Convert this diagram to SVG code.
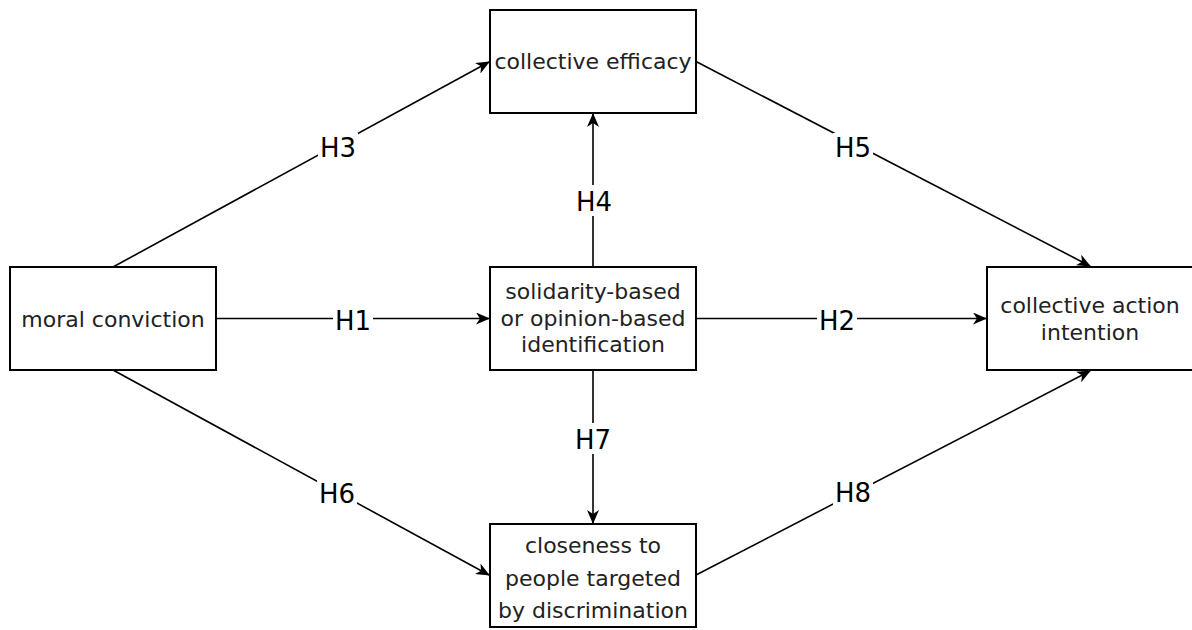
<svg xmlns="http://www.w3.org/2000/svg" width="1192" height="630" viewBox="0 0 1192 630">
<style>
.box{fill:#fff;stroke:#000;stroke-width:2}
.t{font-family:"DejaVu Sans",Verdana,sans-serif;font-size:22px;fill:#222;text-anchor:middle}
.edge{stroke:#000;stroke-width:1.6;fill:none}
.lbg{fill:#fff}
.lbl{font-family:"DejaVu Sans",Verdana,sans-serif;font-size:26px;fill:#000;text-anchor:middle}
</style>
<defs>
<marker id="arr" viewBox="0 0 14 12" refX="13" refY="6" markerWidth="14" markerHeight="12" markerUnits="userSpaceOnUse" orient="auto">
<path d="M0,0 L14,6 L0,12 L4,6 z" fill="#000"/>
</marker>
</defs>
<rect width="1192" height="630" fill="#fff"/>
<g id="connectors">
<line class="edge" x1="216" y1="318.5" x2="489" y2="318.5" marker-end="url(#arr)"/>
<line class="edge" x1="696" y1="318.5" x2="986" y2="318.5" marker-end="url(#arr)"/>
<line class="edge" x1="113" y1="267" x2="489" y2="62" marker-end="url(#arr)"/>
<line class="edge" x1="593" y1="267" x2="593" y2="114" marker-end="url(#arr)"/>
<line class="edge" x1="696" y1="61.5" x2="1090" y2="266" marker-end="url(#arr)"/>
<line class="edge" x1="113" y1="370" x2="489" y2="575" marker-end="url(#arr)"/>
<line class="edge" x1="593" y1="370" x2="593" y2="523" marker-end="url(#arr)"/>
<line class="edge" x1="696" y1="575" x2="1090" y2="371" marker-end="url(#arr)"/>
<g id="labels">
<rect class="lbg" x="333" y="305" width="40" height="30"/><text class="lbl" x="353" y="330">H1</text>
<rect class="lbg" x="817" y="305" width="40" height="30"/><text class="lbl" x="837" y="330">H2</text>
<rect class="lbg" x="318" y="133" width="40" height="30"/><text class="lbl" x="338" y="157">H3</text>
<rect class="lbg" x="573" y="185" width="40" height="31"/><text class="lbl" x="594" y="211">H4</text>
<rect class="lbg" x="833" y="133" width="40" height="30"/><text class="lbl" x="853" y="157">H5</text>
<rect class="lbg" x="317" y="478" width="40" height="30"/><text class="lbl" x="337" y="503">H6</text>
<rect class="lbg" x="573" y="423" width="40" height="31"/><text class="lbl" x="593" y="449">H7</text>
<rect class="lbg" x="833" y="477" width="40" height="30"/><text class="lbl" x="853" y="502">H8</text>
</g>
</g>
<g id="moral-conviction">
<rect class="box" x="10" y="267" width="206" height="103"/>
<text class="t" x="113" y="326.5">moral conviction</text>
</g>
<g id="collective-efficacy">
<rect class="box" x="490" y="10" width="206" height="103"/>
<text class="t" x="593" y="68.5">collective efficacy</text>
</g>
<g id="identification">
<rect class="box" x="490" y="267" width="206" height="103"/>
<text class="t" x="593" y="299">solidarity-based</text>
<text class="t" x="593" y="325.5">or opinion-based</text>
<text class="t" x="593" y="351.5">identification</text>
</g>
<g id="collective-action-intention">
<rect class="box" x="987" y="267" width="206" height="103"/>
<text class="t" x="1090" y="313">collective action</text>
<text class="t" x="1090" y="340">intention</text>
</g>
<g id="closeness">
<rect class="box" x="490" y="524" width="206" height="103"/>
<text class="t" x="593" y="553">closeness to</text>
<text class="t" x="593" y="586">people targeted</text>
<text class="t" x="593" y="618">by discrimination</text>
</g>
</svg>
